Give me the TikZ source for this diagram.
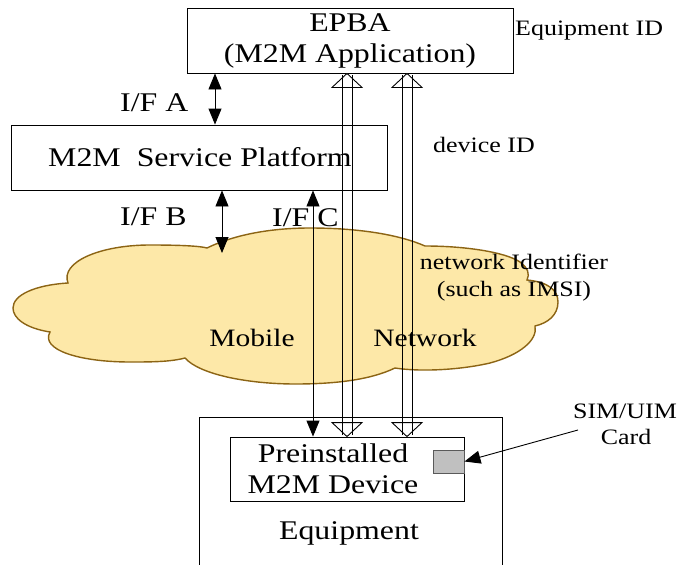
\documentclass[tikz,border=0pt]{standalone}
\usepackage{fontspec}
\setmainfont{Liberation Serif}[FakeStretch=1.18]
\usetikzlibrary{arrows.meta,calc}
\definecolor{cloudfill}{RGB}{253,232,168}
\definecolor{clouddraw}{RGB}{140,100,20}
\definecolor{simgray}{RGB}{192,192,192}
\definecolor{simedge}{RGB}{90,90,90}
\newcommand\fatarrow[3]{%
  \draw[fathead] ($(#2.south -| #1)+(-15,14)$) -- (#2.south -| #1) -- ($(#2.south -| #1)+(15,14)$) -- cycle;
  \draw[fathead] ($(#3.north -| #1)+(-15,-14)$) -- (#3.north -| #1) -- ($(#3.north -| #1)+(15,-14)$) -- cycle;
  \draw[fatshaft] ($(#2.south -| #1)+(-5,2)$) -- ($(#3.north -| #1)+(-5,-2)$);
  \draw[fatshaft] ($(#2.south -| #1)+(5,2)$) -- ($(#3.north -| #1)+(5,-2)$);
}
\begin{document}
\begin{tikzpicture}[x=1pt,y=-1pt,
  box/.style={draw=black,line width=0.9pt,rectangle,inner sep=0pt},
  big/.style={font=\fontsize{27}{31}\selectfont,align=center,inner sep=0pt},
  mid/.style={font=\fontsize{25}{30}\selectfont,inner sep=0pt},
  small/.style={font=\fontsize{22}{28}\selectfont,inner sep=0pt},
  dbl/.style={line width=0.9pt,{Triangle[length=16pt,width=13pt]}-{Triangle[length=16pt,width=13pt]}},
  sgl/.style={line width=0.9pt,-{Triangle[length=16pt,width=13pt]}},
  fathead/.style={draw=black,fill=white,line width=0.9pt,line join=miter},
  fatshaft/.style={draw=black,line width=0.9pt},
  cloudstyle/.style={fill=cloudfill,draw=clouddraw,line width=1.4pt}
]
\useasboundingbox (0,0) rectangle (681,565);
\clip (0,0) rectangle (681,565);

% cloud
\draw[cloudstyle] (68,283)
  .. controls (60,262) and (100,245) .. (150,245)
  .. controls (180,245) and (200,246) .. (207,248)
  .. controls (240,232) and (280,228) .. (310,228)
  .. controls (360,228) and (400,235) .. (425,246)
  .. controls (465,246) and (505,252) .. (520,262)
  .. controls (528,268) and (530,274) .. (527,280)
  .. controls (548,282) and (558,290) .. (558,302)
  .. controls (558,315) and (548,323) .. (535,326)
  .. controls (538,340) and (520,355) .. (490,363)
  .. controls (460,370) and (420,372) .. (395,368)
  .. controls (370,380) and (335,384) .. (295,384)
  .. controls (250,384) and (200,375) .. (185,358)
  .. controls (170,362) and (150,362) .. (130,362)
  .. controls (80,362) and (40,350) .. (50,332)
  .. controls (25,328) and (13,318) .. (13,308)
  .. controls (13,295) and (35,285) .. (68,283) -- cycle;

% boxes
\node[box,minimum width=326,minimum height=65,big] (epba) at (350,40.5) {EPBA\\(M2M Application)};
\node[box,minimum width=376,minimum height=65] (plat) at (199.5,157.5) {};
\node[big] (plattxt) at (200,157) {M2M\ \ Service Platform};
\node[box,minimum width=303,minimum height=190] (equip) at (350.5,512) {};
\node[box,minimum width=234,minimum height=64] (dev) at (347,469) {};
\node[big] (devtxt) at (333,469) {Preinstalled\\M2M Device};
\node[draw=simedge,fill=simgray,line width=0.9pt,minimum width=31,minimum height=23,inner sep=0pt] (sim) at (448.5,461.5) {};
\node[big] (equiptxt) at (349,533) {Equipment};

% labels
\node[small,anchor=west] (eqid) at (515,31) {Equipment ID};
\node[small,anchor=west] (devid) at (433,145) {device ID};
\node[small] (netid) at (514,262) {network Identifier};
\node[small] (imsi) at (514,291) {(such as IMSI)};
\node[mid] (mob) at (252,338) {Mobile};
\node[mid] (net) at (425,338) {Network};
\node[big,anchor=west] (ifa) at (120,103) {I/F A};
\node[big,anchor=west] (ifb) at (120,217) {I/F B};
\node[big,anchor=west] (ifc) at (272,218) {I/F C};
\node[small] (simlbl) at (625,411) {SIM/UIM};
\node[small] (cardlbl) at (626,437) {Card};

% connectors
\coordinate (ca) at (215,0);
\coordinate (cb) at (222,0);
\coordinate (cc) at (313,0);
\coordinate (bend) at (222,253);
\coordinate (simfrom) at (578,430);
\coordinate (fa1) at (347,0);
\coordinate (fa2) at (407,0);

\draw[dbl] (epba.south -| ca) -- (plat.north -| ca);
\draw[dbl] (plat.south -| cb) -- (bend);
\draw[dbl] (plat.south -| cc) -- (dev.north -| cc);
\fatarrow{fa1}{epba}{dev}
\fatarrow{fa2}{epba}{dev}
\draw[sgl] (simfrom) -- (sim.east);
\end{tikzpicture}
\end{document}
